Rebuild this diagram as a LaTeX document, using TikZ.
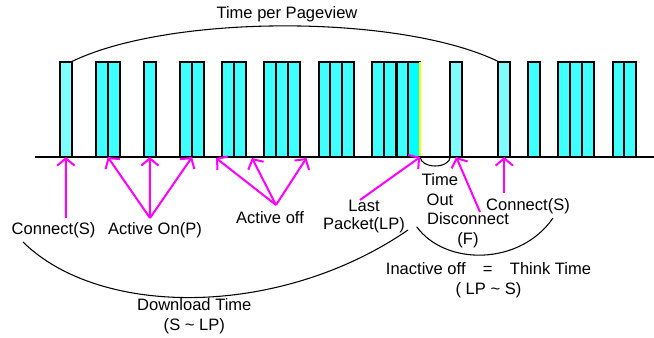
\documentclass[tikz,border=0pt]{standalone}
\usepackage{fontspec}
\setmainfont{Liberation Sans}
\usetikzlibrary{arrows.meta}
\definecolor{cyanA}{RGB}{64,255,255}
\definecolor{cyanL}{RGB}{128,255,255}
\definecolor{cyanB}{RGB}{0,255,255}
\definecolor{magA}{RGB}{255,0,255}
\definecolor{yel}{RGB}{255,255,0}
\begin{document}
\begin{tikzpicture}[x=0.75pt,y=-0.75pt,
 pkt/.style={draw=black,line width=1.5pt,fill=cyanA,anchor=south west,minimum width=8.85pt,minimum height=71.6pt,inner sep=0pt,outer sep=0pt},
 pktl/.style={pkt,fill=cyanL},
 pktb/.style={pkt,fill=cyanB},
 lbl/.style={font=\fontsize{12.4}{15}\selectfont,inner sep=0pt,align=center},
 lbltight/.style={lbl,font=\fontsize{12.4}{13.5}\selectfont},
 parr/.style={draw=magA,line width=1.5pt,-{Straight Barb[length=5.5pt,width=13pt]}},
 arcline/.style={draw=black,line width=0.8pt}
]
\useasboundingbox (0,0) rectangle (654,338);

% packets
\node[pktl] (p1) at (60,157) {};
\node[pkt] (p2a) at (96,157) {};
\node[pkt] (p2b) at (107.8,157) {};
\node[pkt] (p3) at (144,157) {};
\node[pkt] (p4a) at (180.3,157) {};
\node[pkt] (p4b) at (192.1,157) {};
\node[pkt] (p5a) at (222,157) {};
\node[pkt] (p5b) at (234,157) {};
\node[pkt] (p6a) at (264,157) {};
\node[pkt] (p6b) at (276,157) {};
\node[pkt] (p6c) at (288,157) {};
\node[pkt] (p7a) at (318.5,157) {};
\node[pkt] (p7b) at (330.3,157) {};
\node[pkt] (p7c) at (342.1,157) {};
\node[pkt] (p8a) at (372.3,157) {};
\node[pkt] (p8b) at (384.3,157) {};
\node[pkt] (p8c) at (396.5,157) {};
\node[pktb] (p8d) at (408.4,157) {};
\node[pktl] (p9) at (450.3,157) {};
\node[pktl] (p10) at (498.4,157) {};
\node[pkt] (p11) at (528.4,157) {};
\node[pkt] (p12a) at (558.4,157) {};
\node[pkt] (p12b) at (570.4,157) {};
\node[pkt] (p12c) at (582.4,157) {};
\node[pkt] (p13a) at (612.6,157) {};
\node[pkt] (p13b) at (624.4,157) {};
\draw[yel,line width=1.2pt] (p8d.north east) -- (p8d.south east);

% time line
\coordinate (bl) at (35,157.5);
\coordinate (br) at (654,157.5);
\draw[line width=1.5pt] (bl) -- (br);

% arcs
\draw[arcline] (p1.north east) .. controls (170,14) and (400,14) .. (p10.north west);
\node[lbl] (tpp) at (287,14) {Time per Pageview};
\draw[arcline] (p8d.south east) arc[start angle=180,end angle=0,x radius=15,y radius=9];
\coordinate (dl0) at (23,242);
\coordinate (dl1) at (408,230);
\draw[arcline] (dl0) .. controls (100,318) and (280,318) .. (dl1);
\coordinate (ia0) at (416.7,226.7);
\coordinate (ia1) at (553,218);
\draw[arcline] (ia0) .. controls (445,266) and (520,266) .. (ia1);

% arrow sources and gap targets
\coordinate (cs1) at (65.9,218);
\coordinate (aop) at (150,218);
\coordinate (afp) at (276,205);
\coordinate (g1) at (216,158);
\coordinate (g2) at (252,158);
\coordinate (g3) at (306.5,158);
\coordinate (lpp) at (360,200);
\coordinate (dcp) at (480,212);
\coordinate (cs2) at (504.3,193);

\draw[parr] (cs1) -- (p1.south);
\draw[parr] (aop) -- (p2a.south east);
\draw[parr] (aop) -- (p3.south);
\draw[parr] (aop) -- (p4a.south east);
\draw[parr] (afp) -- (g1);
\draw[parr] (afp) -- (g2);
\draw[parr] (afp) -- (g3);
\draw[parr] (lpp) -- (p8d.south east);
\draw[parr] (dcp) -- (p9.south);
\draw[parr] (cs2) -- (p10.south);

% labels
\node[lbl] (csl) at (53.5,230) {Connect(S)};
\node[lbl] (aol) at (155,230) {Active On(P)};
\node[lbl] (afl) at (270,217.5) {Active off};
\node[lbltight] (lpl) at (364,217) {Last\\Packet(LP)};
\node[lbl] (tol) at (440,190) {Time\\Out};
\node[lbl] (dcl) at (468,230) {Disconnect\\(F)};
\node[lbl] (csr) at (528,206) {Connect(S)};
\node[lbl] (iol) at (488.5,280.5) {Inactive off\hspace{13pt}=\hspace{13pt}Think Time\\( LP \textasciitilde{} S)};
\node[lbl] (dtl) at (194.3,316.7) {Download Time\\(S \textasciitilde{} LP)};
\end{tikzpicture}
\end{document}
